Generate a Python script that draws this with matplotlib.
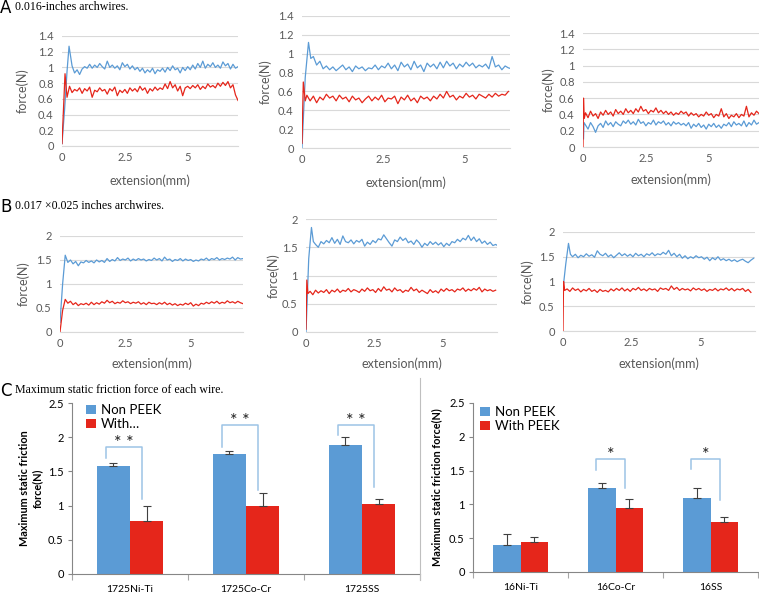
import numpy as np
import matplotlib
matplotlib.use('Agg')
import matplotlib.pyplot as plt

plt.rcParams['font.family'] = ['Lato', 'DejaVu Sans']

W, H = 759, 593
BLUE = '#5B9BD5'
RED = '#E5261B'
GRAY_TXT = '#595959'
GRID = '#D9D9D9'
STEP = 0.1

# ---- friction traces (extension mm, force N) ---------------------------------
# each trace: head points (x, y) for the start-up ramp, then body values every 0.1 mm

a1_blue_head = [(0, 0.03), (0.1, 0.45), (0.2, 0.95), (0.28, 1.27)]
a1_blue_start = 0.4
a1_blue = [1.02, 0.93, 0.97, 0.91, 0.98, 1.01,
           0.99, 1.04, 0.99, 1.03, 1.00, 1.05, 1.01, 0.98, 1.08, 1.00,
           1.03, 0.99, 1.02, 0.97, 1.06, 1.01, 1.04, 0.98, 1.02, 0.97,
           1.00, 0.95, 0.99, 0.93, 0.97, 0.94, 0.99, 0.92, 0.97, 0.95,
           0.99, 0.94, 1.00, 0.96, 1.02, 0.97, 0.99, 0.93, 1.00, 0.96,
           1.01, 0.97, 1.03, 0.98, 1.05, 1.00, 1.08, 0.99, 1.04, 1.01,
           1.06, 1.00, 1.03, 0.99, 1.07, 1.02, 1.05, 0.98, 1.04, 0.99, 1.01]
a1_red_head = [(0, 0.03), (0.12, 0.92), (0.2, 0.62)]
a1_red_start = 0.3
a1_red = [0.76, 0.68, 0.72, 0.70, 0.74, 0.67, 0.73,
          0.70, 0.75, 0.62, 0.71, 0.69, 0.74, 0.70, 0.72, 0.66, 0.73,
          0.70, 0.75, 0.64, 0.71, 0.68, 0.72, 0.67, 0.74, 0.70, 0.73,
          0.69, 0.76, 0.71, 0.74, 0.67, 0.73, 0.70, 0.75, 0.71, 0.74,
          0.72, 0.79, 0.73, 0.82, 0.74, 0.78, 0.70, 0.76, 0.64, 0.74,
          0.76, 0.73, 0.77, 0.74, 0.78, 0.72, 0.76, 0.73, 0.79, 0.75,
          0.77, 0.74, 0.80, 0.76, 0.81, 0.77, 0.82, 0.74, 0.78, 0.65, 0.58]

a2_blue_head = [(0, 0.0), (0.1, 0.75), (0.2, 1.12), (0.27, 0.95)]
a2_blue_start = 0.35
a2_blue = [0.97, 0.88, 0.92, 0.84, 0.87, 0.83, 0.86, 0.82, 0.85, 0.88,
           0.83, 0.86, 0.81, 0.87, 0.84, 0.86, 0.82, 0.85, 0.84, 0.88,
           0.83, 0.87, 0.85, 0.90, 0.84, 0.88, 0.82, 0.91, 0.86, 0.89,
           0.83, 0.92, 0.85, 0.88, 0.81, 0.90, 0.86, 0.89, 0.84, 0.91,
           0.85, 0.92, 0.87, 0.90, 0.84, 0.89, 0.86, 0.91, 0.87, 0.90,
           0.85, 0.88, 0.86, 0.89, 0.84, 0.97, 0.86, 0.88, 0.83, 0.87,
           0.85, 0.84]
a2_red_head = [(0, 0.05), (0.04, 0.70), (0.1, 0.50)]
a2_red_start = 0.15
a2_red = [0.56, 0.50, 0.55, 0.48, 0.54, 0.51, 0.57, 0.53, 0.55, 0.50,
          0.56, 0.52, 0.54, 0.49, 0.55, 0.51, 0.53, 0.48, 0.52, 0.55,
          0.50, 0.54, 0.51, 0.56, 0.49, 0.53, 0.52, 0.55, 0.47, 0.54,
          0.51, 0.56, 0.50, 0.53, 0.48, 0.55, 0.52, 0.54, 0.50, 0.55,
          0.52, 0.57, 0.53, 0.60, 0.54, 0.56, 0.51, 0.55, 0.53, 0.58,
          0.54, 0.56, 0.52, 0.57, 0.55, 0.53, 0.57, 0.54, 0.58, 0.55,
          0.57, 0.56, 0.60]

a3_blue_head = [(0.02, 0.10), (0.04, 0.30)]
a3_blue_start = 0.1
a3_blue = [0.27, 0.22, 0.30, 0.25, 0.18, 0.26, 0.29, 0.24, 0.32, 0.27,
           0.30, 0.25, 0.31, 0.28, 0.26, 0.32, 0.29, 0.33, 0.28, 0.31,
           0.27, 0.34, 0.29, 0.31, 0.26, 0.30, 0.28, 0.33, 0.27, 0.31,
           0.29, 0.32, 0.27, 0.30, 0.26, 0.31, 0.28, 0.30, 0.27, 0.29,
           0.26, 0.30, 0.23, 0.28, 0.25, 0.29, 0.24, 0.27, 0.22, 0.28,
           0.25, 0.29, 0.24, 0.27, 0.23, 0.28, 0.26, 0.30, 0.25, 0.31,
           0.27, 0.29, 0.26, 0.32, 0.25, 0.30, 0.27, 0.33, 0.28, 0.30]
a3_red_head = [(0, 0.0), (0.02, 0.60), (0.05, 0.35)]
a3_red_start = 0.1
a3_red = [0.42, 0.36, 0.44, 0.38, 0.41, 0.35, 0.43, 0.39, 0.45, 0.40,
          0.43, 0.38, 0.46, 0.41, 0.44, 0.40, 0.47, 0.42, 0.45, 0.41,
          0.47, 0.43, 0.50, 0.44, 0.46, 0.41, 0.45, 0.43, 0.48, 0.42,
          0.45, 0.41, 0.44, 0.40, 0.43, 0.39, 0.42, 0.40, 0.44, 0.41,
          0.43, 0.38, 0.42, 0.39, 0.41, 0.37, 0.40, 0.38, 0.43, 0.39,
          0.41, 0.36, 0.40, 0.38, 0.47, 0.37, 0.41, 0.35, 0.39, 0.37,
          0.41, 0.36, 0.40, 0.38, 0.50, 0.37, 0.42, 0.39, 0.44, 0.41]

b1_blue_head = [(0, 0.2), (0.1, 1.0), (0.2, 1.6)]
b1_blue_start = 0.3
b1_blue = [1.45, 1.50, 1.42, 1.47, 1.38, 1.46, 1.44,
           1.49, 1.45, 1.48, 1.44, 1.50, 1.46, 1.49, 1.45, 1.53, 1.47,
           1.51, 1.48, 1.55, 1.49, 1.52, 1.50, 1.54, 1.48, 1.52, 1.49,
           1.53, 1.50, 1.52, 1.48, 1.51, 1.49, 1.54, 1.50, 1.53, 1.48,
           1.56, 1.50, 1.52, 1.47, 1.51, 1.49, 1.53, 1.48, 1.52, 1.49,
           1.51, 1.47, 1.50, 1.48, 1.52, 1.50, 1.54, 1.49, 1.53, 1.51,
           1.55, 1.50, 1.53, 1.51, 1.54, 1.52, 1.56, 1.50, 1.55, 1.52, 1.53]
b1_red_head = [(0, 0.0), (0.1, 0.45), (0.2, 0.68)]
b1_red_start = 0.3
b1_red = [0.60, 0.64, 0.57, 0.61, 0.55, 0.59, 0.57,
          0.60, 0.56, 0.62, 0.57, 0.61, 0.58, 0.63, 0.60, 0.66, 0.61,
          0.64, 0.59, 0.62, 0.60, 0.65, 0.61, 0.63, 0.59, 0.62, 0.60,
          0.63, 0.58, 0.61, 0.57, 0.62, 0.59, 0.60, 0.57, 0.61, 0.58,
          0.62, 0.57, 0.60, 0.56, 0.59, 0.55, 0.58, 0.56, 0.60, 0.57,
          0.61, 0.54, 0.58, 0.55, 0.60, 0.58, 0.62, 0.59, 0.63, 0.60,
          0.64, 0.59, 0.62, 0.60, 0.65, 0.61, 0.63, 0.60, 0.64, 0.61, 0.59]

b2_blue_head = [(0, 0.0), (0.1, 1.3), (0.2, 1.85), (0.27, 1.6)]
b2_blue_start = 0.35
b2_blue = [1.55, 1.50, 1.60, 1.56, 1.62, 1.58, 1.67,
           1.57, 1.64, 1.55, 1.70, 1.60, 1.58, 1.63, 1.56, 1.62, 1.59, 1.64,
           1.52, 1.59, 1.55, 1.62, 1.58, 1.65, 1.63, 1.72, 1.65, 1.58,
           1.52, 1.63, 1.60, 1.68, 1.62, 1.66, 1.58, 1.61, 1.55, 1.63, 1.58,
           1.50, 1.57, 1.53, 1.60, 1.55, 1.59, 1.54, 1.58, 1.51, 1.57,
           1.53, 1.60, 1.58, 1.64, 1.60, 1.66, 1.63, 1.71, 1.62, 1.68,
           1.60, 1.65, 1.57, 1.61, 1.55, 1.59, 1.53, 1.55, 1.52]
b2_red_head = [(0, 0.05), (0.03, 0.92), (0.07, 0.68)]
b2_red_start = 0.15
b2_red = [0.72, 0.66, 0.74, 0.69, 0.73, 0.70, 0.75, 0.68, 0.74, 0.71,
          0.76, 0.70, 0.74, 0.72, 0.77, 0.71, 0.75, 0.73, 0.70, 0.76,
          0.72, 0.78, 0.73, 0.75, 0.70, 0.77, 0.72, 0.80, 0.74, 0.76,
          0.71, 0.78, 0.73, 0.75, 0.70, 0.74, 0.72, 0.79, 0.73, 0.76,
          0.70, 0.74, 0.71, 0.68, 0.75, 0.70, 0.73, 0.69, 0.76, 0.72,
          0.77, 0.73, 0.75, 0.71, 0.76, 0.74, 0.78, 0.72, 0.76, 0.73,
          0.77, 0.74, 0.79, 0.71, 0.76, 0.73, 0.75, 0.72, 0.74]

b3_blue_head = [(0.02, 0.95), (0.1, 1.35), (0.2, 1.77), (0.27, 1.55)]
b3_blue_start = 0.35
b3_blue = [1.50, 1.55, 1.48, 1.53, 1.50, 1.56, 1.51,
           1.54, 1.49, 1.62, 1.55, 1.52, 1.57, 1.50, 1.54, 1.48, 1.53,
           1.58, 1.52, 1.56, 1.51, 1.55, 1.50, 1.57, 1.52, 1.55, 1.50,
           1.56, 1.53, 1.58, 1.52, 1.56, 1.54, 1.59, 1.55, 1.63, 1.52,
           1.57, 1.50, 1.55, 1.47, 1.52, 1.46, 1.50, 1.47, 1.52, 1.48,
           1.50, 1.45, 1.49, 1.42, 1.48, 1.44, 1.50, 1.43, 1.46, 1.42,
           1.45, 1.41, 1.44, 1.40, 1.43, 1.45, 1.41, 1.38, 1.43, 1.47]
b3_red_head = [(0, 0.0), (0.02, 1.0), (0.06, 0.82)]
b3_red_start = 0.15
b3_red = [0.85, 0.80, 0.87, 0.82, 0.85, 0.79, 0.84, 0.81, 0.86, 0.80,
          0.83, 0.78, 0.84, 0.80, 0.82, 0.79, 0.85, 0.81, 0.86, 0.82,
          0.87, 0.81, 0.85, 0.80, 0.86, 0.83, 0.88, 0.82, 0.85, 0.81,
          0.86, 0.83, 0.85, 0.80, 0.87, 0.84, 0.86, 0.82, 0.91, 0.84,
          0.88, 0.82, 0.86, 0.83, 0.85, 0.81, 0.87, 0.83, 0.86, 0.82,
          0.85, 0.80, 0.84, 0.82, 0.86, 0.81, 0.85, 0.83, 0.87, 0.82,
          0.86, 0.81, 0.85, 0.83, 0.86, 0.80, 0.84, 0.78]

# ---- maximum static friction (C) ---------------------------------------------
c1_groups = ['1725Ni-Ti', '1725Co-Cr', '1725SS']
c1_non = [1.58, 1.75, 1.88]
c1_non_err = [0.05, 0.05, 0.12]
c1_with = [0.78, 1.00, 1.02]
c1_with_err = [0.22, 0.18, 0.07]
c1_brackets = [(1.70, 1.86, 1.10), (1.86, 2.18, 1.23), (2.03, 2.18, 1.27)]  # left foot, top, right foot
c1_stars = ['* *', '* *', '* *']

c2_groups = ['16Ni-Ti', '16Co-Cr', '16SS']
c2_non = [0.40, 1.24, 1.09]
c2_non_err = [0.16, 0.08, 0.15]
c2_with = [0.45, 0.94, 0.74]
c2_with_err = [0.07, 0.14, 0.07]
c2_brackets = [None, (1.51, 1.67, 1.24), (1.52, 1.67, 1.07)]
c2_stars = ['', '*', '*']

fig = plt.figure(figsize=(W / 100, H / 100), dpi=100)


def px_axes(l, t, r, b):
    return fig.add_axes([l / W, 1 - b / H, (r - l) / W, (b - t) / H])


def ftext(x, y, s, **kw):
    return fig.text(x / W, 1 - y / H, s, **kw)


def trace(head, start, body):
    x = [p[0] for p in head] + list(start + STEP * np.arange(len(body)))
    y = [p[1] for p in head] + list(body)
    return x, y


def fmt(v):
    return ('%g' % v)


def force_panel(box, xmax, ymax, ystep, series, xlab_y, ylab_x):
    l, t, r, b = box
    ax = px_axes(l, t, r, b)
    for head, start, body, col in series:
        x, y = trace(head, start, body)
        ax.plot(x, y, color=col, lw=0.9)
    ax.set_xlim(0, xmax)
    ax.set_ylim(0, ymax)
    yt = np.arange(0, ymax + 1e-9, ystep)
    ax.set_yticks(yt)
    ax.set_yticklabels([fmt(round(v, 2)) for v in yt])
    ax.set_xticks([0, 2.5, 5])
    ax.set_xticklabels(['0', '2.5', '5'])
    ax.grid(axis='y', color=GRID, lw=0.8)
    ax.set_axisbelow(True)
    for s in ['top', 'right', 'left']:
        ax.spines[s].set_visible(False)
    ax.spines['bottom'].set_color(GRID)
    ax.spines['bottom'].set_zorder(0.5)
    ax.tick_params(length=0, labelsize=8, colors=GRAY_TXT, pad=4)
    ax.tick_params(axis='y', pad=6)
    ax.set_facecolor('none')
    ftext((l + r) / 2, xlab_y, 'extension(mm)', ha='center', va='center',
          fontsize=9, color=GRAY_TXT)
    ftext(ylab_x, (t + b) / 2, 'force(N)', rotation=90, ha='center', va='center',
          fontsize=9, color=GRAY_TXT)
    return ax


force_panel((62, 36, 238, 146), 7, 1.4, 0.2,
            [(a1_blue_head, a1_blue_start, a1_blue, BLUE),
             (a1_red_head, a1_red_start, a1_red, RED)], 181, 22)
force_panel((302, 16, 510, 148), 6.4, 1.4, 0.2,
            [(a2_blue_head, a2_blue_start, a2_blue, BLUE),
             (a2_red_head, a2_red_start, a2_red, RED)], 183, 265)
force_panel((583, 33, 759, 147), 7, 1.4, 0.2,
            [(a3_blue_head, a3_blue_start, a3_blue, BLUE),
             (a3_red_head, a3_red_start, a3_red, RED)], 180, 548)

force_panel((60, 236, 243, 332), 7, 2, 0.5,
            [(b1_blue_head, b1_blue_start, b1_blue, BLUE),
             (b1_red_head, b1_red_start, b1_red, RED)], 364, 23)
force_panel((306, 219, 497, 332), 7, 2, 0.5,
            [(b2_blue_head, b2_blue_start, b2_blue, BLUE),
             (b2_red_head, b2_red_start, b2_red, RED)], 364, 273)
force_panel((563, 232, 755, 331), 7, 2, 0.5,
            [(b3_blue_head, b3_blue_start, b3_blue, BLUE),
             (b3_red_head, b3_red_start, b3_red, RED)], 364, 527)


def bar_panel(box, groups, non, non_err, wth, wth_err, brackets, stars,
              labels, leg_xy, ylabel, ylab_x):
    l, t, r, b = box
    ax = px_axes(l, t, r, b)
    w = 1 / 3.5
    idx = np.arange(len(groups))
    ax.bar(idx - w / 2, non, w, color=BLUE, label=labels[0], zorder=2)
    ax.bar(idx + w / 2, wth, w, color=RED, label=labels[1], zorder=2)
    ax.errorbar(idx - w / 2, non, yerr=[np.zeros(len(non)), non_err], fmt='none',
                ecolor='#404040', elinewidth=0.8, capsize=3, capthick=0.8, zorder=3)
    ax.errorbar(idx + w / 2, wth, yerr=[np.zeros(len(wth)), wth_err], fmt='none',
                ecolor='#404040', elinewidth=0.8, capsize=3, capthick=0.8, zorder=3)
    for i, br in enumerate(brackets):
        if br is None:
            continue
        yl, ytop, yr = br
        x0, x1 = i - 0.21, i + 0.1
        ax.plot([x0, x0, x1, x1], [yl, ytop, ytop, yr], color='#9DC3E6', lw=1.1, zorder=4)
        ax.text((x0 + x1) / 2, ytop + 0.06, stars[i], ha='center', va='center',
                fontsize=13, color='#222222')
    ax.set_xlim(-0.5, len(groups) - 0.5)
    ax.set_ylim(0, 2.5)
    ax.set_yticks(np.arange(0, 2.51, 0.5))
    ax.set_yticklabels(['0', '0.5', '1', '1.5', '2', '2.5'])
    ax.set_xticks(idx)
    ax.set_xticklabels(groups)
    ax.set_xticks(np.arange(-0.5, len(groups)), minor=True)
    ax.tick_params(axis='x', which='major', length=0, labelsize=7.5, pad=8)
    ax.tick_params(axis='x', which='minor', length=4, color='#A6A6A6', width=0.8)
    ax.tick_params(axis='y', length=3, color='#868686', width=0.8, labelsize=8, pad=3)
    for s in ['top', 'right']:
        ax.spines[s].set_visible(False)
    for s in ['left', 'bottom']:
        ax.spines[s].set_color('#868686')
        ax.spines[s].set_linewidth(0.8)
    ax.legend(loc='upper left', bbox_to_anchor=(leg_xy[0] / W, 1 - leg_xy[1] / H),
              bbox_transform=fig.transFigure, frameon=False, fontsize=9.5,
              handlelength=0.75, handleheight=0.75, handletextpad=0.35,
              labelspacing=0.15, borderpad=0, borderaxespad=0)
    ftext(ylab_x, (t + b) / 2, ylabel, rotation=90, ha='center', va='center',
          fontsize=7.8, fontweight='bold', linespacing=1.3)
    return ax


bar_panel((72, 403, 420, 574), c1_groups, c1_non, c1_non_err, c1_with, c1_with_err,
          c1_brackets, c1_stars, ['Non PEEK', 'With\u2026'], (86, 404),
          'Maximum static friction\nforce(N)', 31)
bar_panel((473, 403, 758, 572), c2_groups, c2_non, c2_non_err, c2_with, c2_with_err,
          c2_brackets, c2_stars, ['Non PEEK', 'With PEEK'], (480, 406),
          'Maximum static friction force(N)', 437)

# chart border line between the two bar charts
fig.add_artist(plt.Line2D([420 / W, 420 / W], [1 - 378 / H, 1 - 580 / H],
                          color='#BFBFBF', lw=0.8))

# panel letters and captions
for letter, cap, y in [('A', '0.016-inches archwires.', 8),
                       ('B', '0.017 \u00d70.025 inches archwires.', 207),
                       ('C', 'Maximum static friction force of each wire.', 391)]:
    ftext(0, y, letter, ha='left', va='center', fontsize=12, family='DejaVu Sans')
    ftext(15, y - 1, cap, ha='left', va='center', fontsize=8.6, family='Liberation Serif')

fig.savefig('out.png', dpi=100)
